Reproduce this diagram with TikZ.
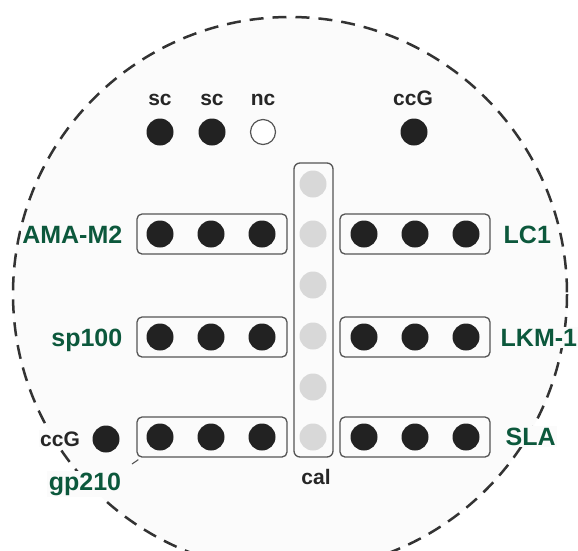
\documentclass[tikz,border=0pt]{standalone}
\usepackage{fontspec}
\setmainfont{Liberation Sans}
\definecolor{labelgreen}{RGB}{12,88,60}
\definecolor{dotdark}{RGB}{34,34,34}
\definecolor{dotlight}{RGB}{216,216,216}
\definecolor{boxedge}{RGB}{85,85,85}
\definecolor{paper}{RGB}{251,251,251}
\tikzset{
  spot/.style={circle, fill=dotdark, minimum size=27pt, inner sep=0pt},
  openspot/.style={circle, draw=boxedge, line width=1.2pt, fill=white, minimum size=25pt, inner sep=0pt},
  calspot/.style={circle, fill=dotlight, minimum size=27pt, inner sep=0pt},
  stripbox/.style={draw=boxedge, line width=1.3pt, rounded corners=5pt, minimum width=150pt, minimum height=40pt, inner sep=0pt},
  calbox/.style={draw=boxedge, line width=1.3pt, rounded corners=6pt, minimum width=39pt, minimum height=294pt, inner sep=0pt},
  tag/.style={font=\bfseries\fontsize{21}{25}\selectfont, text=black!85, inner sep=1pt},
  antigen/.style={font=\bfseries\fontsize{25}{30}\selectfont, text=labelgreen, fill=paper, inner sep=1.5pt},
  well/.style={draw=black!80, line width=2.5pt, dash pattern=on 14pt off 9pt, fill=paper}
}
\begin{document}
\begin{tikzpicture}[x=1pt, y=-1pt]
\useasboundingbox (0,0) rectangle (578,550);
\fill[white] (0,0) rectangle (578,550);
% dashed outline of the well
\path[well] (290,294) circle (277);

% control spots along the top
\node[tag, anchor=base] (tsc1) at (160,105) {sc};
\node[tag, anchor=base] (tsc2) at (212,105) {sc};
\node[tag, anchor=base] (tnc) at (263,105) {nc};
\node[tag, anchor=base] (tccg) at (413,105) {ccG};
\node[spot] (sc1) at (160,132) {};
\node[spot] (sc2) at (212,132) {};
\node[openspot] (nc) at (263,132) {};
\node[spot] (ccg1) at (414,132) {};

% calibration column
\node[calbox] (calcol) at (313.5,310) {};
\foreach \i/\y in {1/184,2/234,3/285,4/336,5/387,6/437}
  \node[calspot] (cal\i) at (313,\y) {};
\node[tag, anchor=base] (tcal) at (316,484) {cal};

% antigen strips, left side
\node[stripbox] (boxL1) at (212,234) {};
\node[stripbox] (boxL2) at (212,337) {};
\node[stripbox] (boxL3) at (212,437) {};
% antigen strips, right side
\node[stripbox] (boxR1) at (415,234) {};
\node[stripbox] (boxR2) at (415,337) {};
\node[stripbox] (boxR3) at (415,437) {};

\foreach \r/\y in {1/234,2/337,3/437}{
  \foreach \c/\x in {1/160,2/211,3/262}
    \node[spot] (L\r\c) at (\x,\y) {};
  \foreach \c/\x in {1/364,2/415,3/466}
    \node[spot] (R\r\c) at (\x,\y) {};
}

% antigen names
\node[antigen, anchor=base east] (ama) at (124,243) {AMA-M2};
\node[antigen, anchor=base east] (sp) at (124,346) {sp100};
\node[antigen, anchor=base west] (lc) at (502,243) {LC1};
\node[antigen, anchor=base west, inner xsep=0.5pt] (lkm) at (500,346) {LKM-1};
\node[antigen, anchor=base west] (sla) at (504,445) {SLA};
\node[antigen, anchor=base] (gp) at (85,490) {gp210};

% lone control beside the bottom strip
\node[tag, fill=paper, anchor=base] (tccg2) at (60,446) {ccG};
\node[spot] (ccg2) at (106,439) {};

% leader from gp210 to its strip
\coordinate (gplead) at (132,464);
\draw[boxedge, line width=1.1pt] (gplead) -- ([shift={(2pt,-2pt)}]boxL3.south west);
\end{tikzpicture}
\end{document}
